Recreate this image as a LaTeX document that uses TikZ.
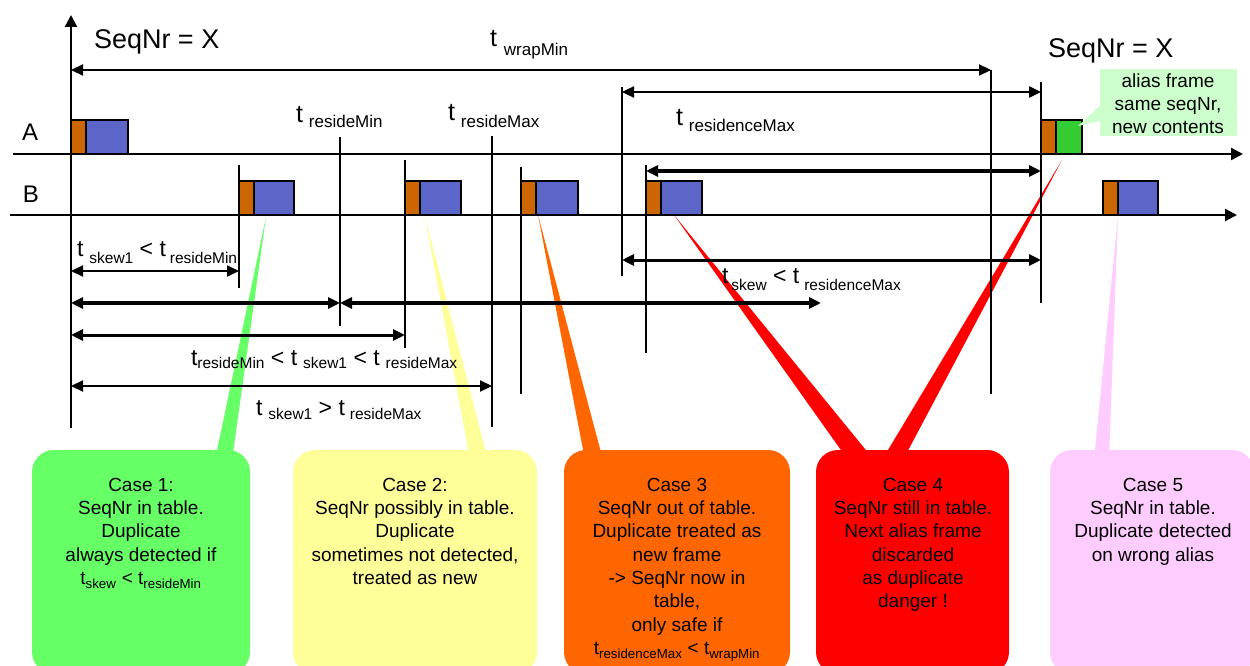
\documentclass[tikz,border=0pt]{standalone}
\usepackage{fontspec}
\setmainfont{Liberation Sans}
\usetikzlibrary{arrows.meta}

\definecolor{hdrorange}{HTML}{CC6600}
\definecolor{payblue}{HTML}{5B66C8}
\definecolor{paygreen}{HTML}{33CC33}
\definecolor{caseone}{HTML}{66FF66}
\definecolor{casetwo}{HTML}{FFFF99}
\definecolor{casethree}{HTML}{FF6600}
\definecolor{casefour}{HTML}{FF0000}
\definecolor{casefive}{HTML}{FFCCFF}
\definecolor{notegreen}{HTML}{CCFFCC}

% "t" followed by a lowered, smaller index: gap, drop, index text
\newcommand\subsz{16}
\newcommand\tsub[3]{t\hspace{#1pt}\raisebox{-#2pt}{\fontsize{\subsz}{\subsz}\selectfont #3}}
% one frame: header (orange) + payload; x left, y bottom, payload width, payload colour
\newcommand\dataframe[4]{%
  \filldraw[frameedge, fill=hdrorange] (#1,#2) rectangle ++(15,-34);
  \filldraw[frameedge, fill=#4] (#1+15,#2) rectangle ++(#3,-34);}

\begin{document}
\begin{tikzpicture}[x=1pt,y=-1pt,
  every node/.style={inner sep=0pt,outer sep=0pt},
  frameedge/.style={draw=black,line width=1.3pt},
  marker/.style={line width=1.3pt},
  timeaxis/.style={line width=2.2pt,-{Triangle[length=12pt,width=12pt]}},
  span/.style={line width=2.4pt,{Triangle[length=12pt,width=11pt]}-{Triangle[length=12pt,width=11pt]}},
  heavyspan/.style={span,line width=4pt},
  bigtext/.style={anchor=base west,font=\fontsize{27}{27}\selectfont},
  rowlabel/.style={anchor=base west,font=\fontsize{24}{24}\selectfont},
  toplabel/.style={anchor=base west,font=\fontsize{25}{25}\selectfont\def\subsz{17}},
  lowlabel/.style={anchor=base west,font=\fontsize{23}{23}\selectfont\def\subsz{15.5}},
  casebox/.style={rounded corners=22pt,anchor=north west,minimum height=224pt},
  casetext/.style={anchor=north,align=center,font=\fontsize{19}{23.3}\selectfont},
]
\useasboundingbox (0,0) rectangle (1250,666);
\clip (0,0) rectangle (1250,666);

% pointer tips at the frames
\coordinate (tip1) at (266,217);
\coordinate (tip2) at (425,217);
\coordinate (tip3) at (538,215);
\coordinate (tip4a) at (674,215);
\coordinate (tip4b) at (1062,160);
\coordinate (tip5) at (1118,215);
\coordinate (tipn) at (1078,126);

% callout pointers
\fill[caseone] (tip1) -- (215,460) -- (232,460) -- cycle;
\fill[casetwo] (tip2) -- (470,460) -- (488,460) -- cycle;
\fill[casethree] (tip3) -- (585,460) -- (603,460) -- cycle;
\fill[casefour] (tip4a) -- (848,460) -- (874,460) -- cycle;
\fill[casefour] (tip4b) -- (882,460) -- (903,460) -- cycle;
\fill[casefive] (tip5) -- (1094,460) -- (1109,460) -- cycle;

% callout boxes
\node[casebox,fill=caseone,minimum width=218pt] (c1) at (32,450) {};
\node[casebox,fill=casetwo,minimum width=244pt] (c2) at (293,450) {};
\node[casebox,fill=casethree,minimum width=226pt] (c3) at (564,450) {};
\node[casebox,fill=casefour,minimum width=193pt] (c4) at (816,450) {};
\node[casebox,fill=casefive,minimum width=204pt] (c5) at (1050,450) {};

\node[casetext] (c1t) at (141,478) {Case 1:\\SeqNr in table.\\Duplicate\\always detected if\\t\textsubscript{skew} < t\textsubscript{resideMin}};
\node[casetext] (c2t) at (415,478) {Case 2:\\SeqNr possibly in table.\\Duplicate\\sometimes not detected,\\treated as new};
\node[casetext] (c3t) at (677,478) {Case 3\\SeqNr out of table.\\Duplicate treated as\\new frame\\-> SeqNr now in\\table,\\only safe if\\t\textsubscript{residenceMax} < t\textsubscript{wrapMin}};
\node[casetext] (c4t) at (913,478) {Case 4\\SeqNr still in table.\\Next alias frame\\discarded\\as duplicate\\danger !};
\node[casetext] (c5t) at (1153,478) {Case 5\\SeqNr in table.\\Duplicate detected\\on wrong alias};

% note on the alias frame
\node[fill=notegreen,anchor=north west,minimum width=137pt,minimum height=67pt] (note) at (1100,69) {};
\node[anchor=north,align=center,font=\fontsize{19}{23}\selectfont] (notet) at (1168,73.5) {alias frame\\same seqNr,\\new contents};

% time axes
\coordinate (origin) at (71,428);
\coordinate (up) at (71,15);
\draw[timeaxis] (origin) -- (up);
\draw[timeaxis] (13,154) coordinate (aStart) -- (1243,154) coordinate (aEnd);
\draw[timeaxis] (10,215) coordinate (bStart) -- (1237,215) coordinate (bEnd);

% time markers
\draw[marker] (239,165) -- (239,288);
\draw[marker] (340,137) -- (340,326);
\draw[marker] (405,160) -- (405,348);
\draw[marker] (492,136) -- (492,427);
\draw[marker] (521,167) -- (521,394);
\draw[marker] (622,87) -- (622,276);
\draw[marker] (646,165) -- (646,353);
\draw[marker] (991,70) -- (991,394);
\draw[marker] (1041,82) -- (1041,303);

% intervals
\draw[span,line width=2.2pt] (71,70) -- (991,70);
\draw[span] (622,92) -- (1041,92);
\draw[heavyspan] (646,171) -- (1041,171);
\draw[span,line width=3pt] (622,260) -- (1041,260);
\draw[span,line width=2pt] (71,271) -- (239,271);
\draw[heavyspan] (71,303) -- (340,303);
\draw[heavyspan] (340,303) -- (821,303);
\draw[span,line width=3pt] (71,335) -- (405,335);
\draw[span,line width=2.2pt] (71,386) -- (492,386);

% frames on A and B
\dataframe{71}{154}{42}{payblue}
\dataframe{1041}{154}{26}{paygreen}
\dataframe{239}{215}{40}{payblue}
\dataframe{405}{215}{41}{payblue}
\dataframe{521}{215}{42}{payblue}
\dataframe{646}{215}{41}{payblue}
\dataframe{1103}{215}{40}{payblue}

% pointer from the note to the alias frame
\fill[notegreen] (tipn) -- (1104,102) -- (1104,120) -- cycle;

% labels
\node[bigtext] (seqA) at (94,49) {SeqNr = X};
\node[bigtext] (seqB) at (1048,58) {SeqNr = X};
\node[rowlabel] (rowA) at (22,140) {A};
\node[rowlabel] (rowB) at (23,202) {B};

\node[toplabel] (lwrap) at (490,47) {\tsub{7}{9}{wrapMin}};
\node[toplabel] (lrmin) at (296,123) {\tsub{6}{5}{resideMin}};
\node[toplabel] (lrmax) at (448,121) {\tsub{6}{7}{resideMax}};
\node[toplabel] (lres) at (676,125) {\tsub{6}{6}{residenceMax}};

\node[lowlabel] (lskew1) at (77,256) {\tsub{6}{7}{skew1} < \tsub{4}{7}{resideMin}};
\node[lowlabel] (lmid) at (191,365) {\tsub{0}{3}{resideMin} < \tsub{6}{3}{skew1} < \tsub{6}{3}{resideMax}};
\node[lowlabel] (lover) at (256,415) {\tsub{6}{4}{skew1} > \tsub{5}{4}{resideMax}};
\node[lowlabel] (lres2) at (722,283) {\tsub{3}{7}{skew} < \tsub{5}{7}{residenceMax}};
\end{tikzpicture}
\end{document}
